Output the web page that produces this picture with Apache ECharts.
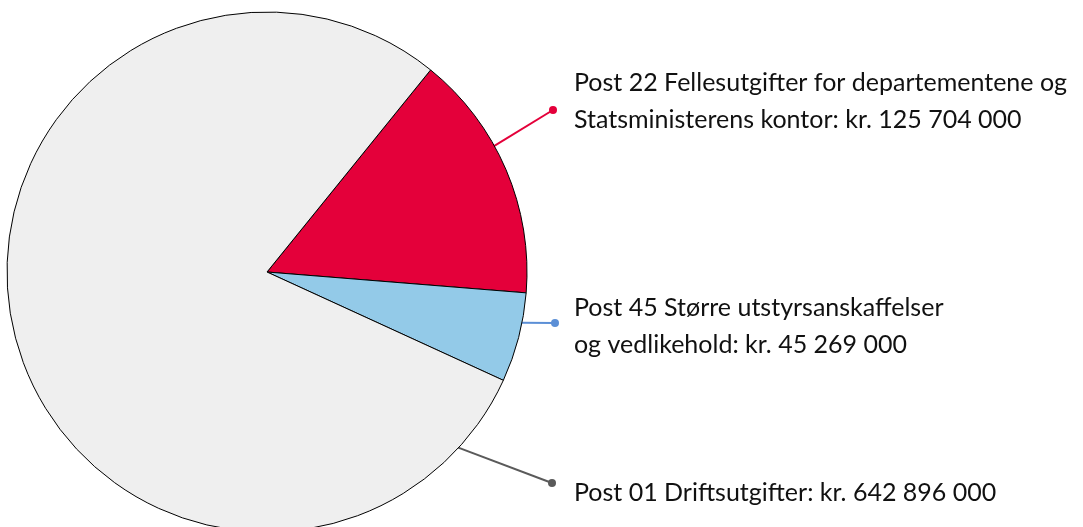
<!DOCTYPE html>
<html>
<head>
<meta charset="utf-8">
<script src="https://cdn.jsdelivr.net/npm/echarts@6/dist/echarts.min.js"></script>
<style>
html,body{margin:0;padding:0;background:#fff;}
#chart{width:1083px;height:527px;}
</style>
</head>
<body>
<div id="chart"></div>
<script>
// Data
const categories = [
  'Post 22 Fellesutgifter for departementene og\nStatsministerens kontor: kr. 125 704 000',
  'Post 45 Større utstyrsanskaffelser\nog vedlikehold: kr. 45 269 000',
  'Post 01 Driftsutgifter: kr. 642 896 000'
];
const values = [125704000, 45269000, 642896000];
const colors = ['#E4003A', '#93CAE8', '#EFEFEF'];
const lineColors = ['#E4003A', '#5B8FD6', '#5A5A5A'];

// Layout (positions of annotations)
const CX = 267, CY = 272, R = 260;
const anchorAngles = [29, -11.3, -42.6];      // where label line meets the pie edge (deg)
const dotPos = [[553, 110], [555, 323], [552, 483]];
const labelPos = [[574, 101], [574, 326], [574, 493]];

const chart = echarts.init(document.getElementById('chart'), null, {renderer: 'canvas'});

function edgePoint(deg) {
  const a = deg * Math.PI / 180;
  return [CX + (R - 1) * Math.cos(a), CY - (R - 1) * Math.sin(a)];
}

chart.setOption({
  animation: false,
  backgroundColor: '#ffffff',
  series: [{
    type: 'pie',
    center: [CX, CY],
    radius: R,
    startAngle: 51,
    clockwise: true,
    silent: true,
    avoidLabelOverlap: false,
    data: values.map((v, i) => ({
      value: v,
      name: categories[i],
      itemStyle: {color: colors[i]},
      labelLine: {lineStyle: {color: lineColors[i], width: 2}}
    })),
    itemStyle: {borderColor: '#000', borderWidth: 1},
    label: {
      show: true,
      formatter: '{b}',
      fontFamily: 'Lato',
      fontSize: 25,
      lineHeight: 37,
      width: 560,
      overflow: 'none',
      color: '#111'
    },
    labelLine: {show: true, length: 10, length2: 10, smooth: false},
    labelLayout: function (params) {
      const i = params.dataIndex;
      const s = edgePoint(anchorAngles[i]);
      const d = dotPos[i];
      return {
        x: labelPos[i][0],
        y: labelPos[i][1],
        align: 'left',
        verticalAlign: 'middle',
        labelLinePoints: [s, d, d]
      };
    }
  }],
  graphic: dotPos.map((p, i) => ({
    type: 'circle',
    shape: {cx: p[0], cy: p[1], r: 4},
    style: {fill: lineColors[i]},
    z: 100
  }))
});
</script>
</body>
</html>
